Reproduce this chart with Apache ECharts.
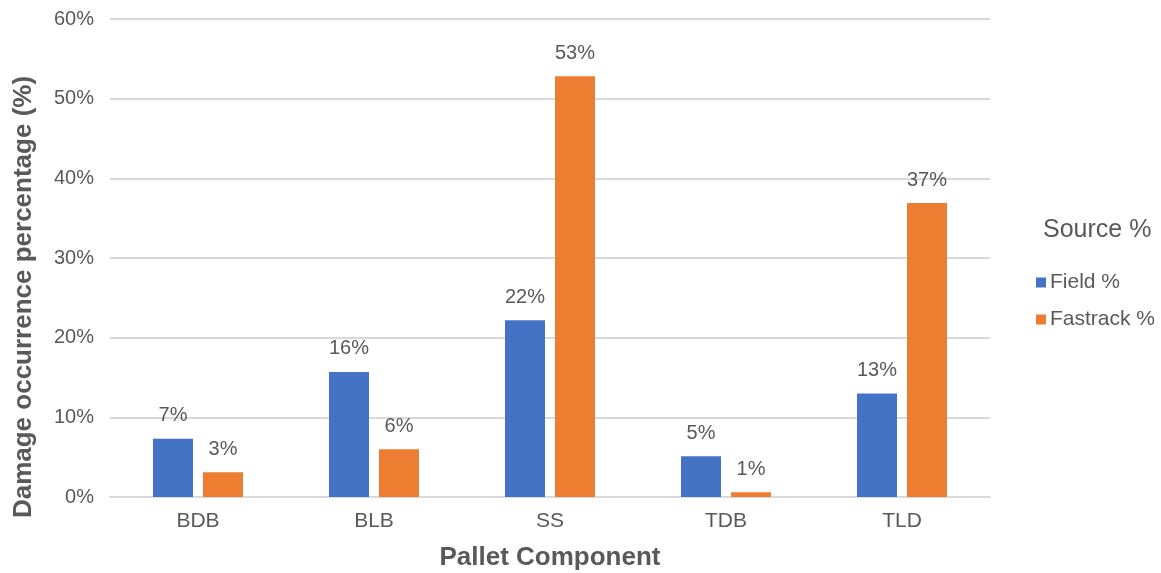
<!DOCTYPE html>
<html>
<head>
<meta charset="utf-8">
<script src="https://cdn.jsdelivr.net/npm/echarts@6/dist/echarts.min.js"></script>
<style>
  html, body { margin: 0; padding: 0; background: #fff; }
  #chart { width: 1161px; height: 573px; }
</style>
</head>
<body>
<div id="chart"></div>
<script>
// pallet components along the x axis
const categories = ["BDB", "BLB", "SS", "TDB", "TLD"];
// damage occurrence, in percent
const fieldPct = [7.3, 15.7, 22.2, 5.1, 13.0];
const fastrackPct = [3.1, 6.0, 52.8, 0.6, 36.9];
const yTicks = [0, 10, 20, 30, 40, 50, 60];

const font = "Liberation Sans, Arial, sans-serif";
const grey = "#595959";

const chart = echarts.init(document.getElementById("chart"));

const barLabel = {
    show: true,
    position: "top",
    distance: 13,
    color: grey,
    fontSize: 20,
    fontFamily: font,
    formatter: (p) => Math.round(p.value) + "%",
};

chart.setOption({
    animation: false,
    textStyle: { fontFamily: font },
    title: {
        text: "Source %",
        left: 1038,
        top: 213,
        textStyle: { color: grey, fontSize: 25, fontWeight: "normal", fontFamily: font },
    },
    legend: {
        orient: "vertical",
        left: 1031,
        top: 267,
        itemWidth: 10,
        itemHeight: 10,
        itemGap: 16,
        icon: "rect",
        textStyle: { color: grey, fontSize: 21, fontFamily: font, padding: [0, 0, 0, -1] },
        data: ["Field %", "Fastrack %"],
    },
    grid: { left: 110, right: 171, top: 19, bottom: 76, outerBoundsMode: "none" },
    xAxis: {
        type: "category",
        data: categories,
        name: "Pallet Component",
        nameLocation: "middle",
        nameGap: 48,
        nameTextStyle: { color: grey, fontSize: 26, fontWeight: "bold", fontFamily: font },
        axisLine: { lineStyle: { color: "#d9d9d9", width: 2 } },
        axisTick: { show: false },
        axisLabel: { color: grey, fontSize: 21, margin: 14, fontFamily: font },
    },
    yAxis: {
        type: "value",
        min: yTicks[0],
        max: yTicks[yTicks.length - 1],
        interval: 10,
        name: "Damage occurrence percentage (%)",
        nameLocation: "middle",
        nameGap: 73,
        nameTextStyle: {
            color: grey, fontSize: 26, fontWeight: "bold", fontFamily: font,
            padding: [0, 78, 0, 0],
        },
        axisLine: { show: false },
        axisTick: { show: false },
        axisLabel: { color: grey, fontSize: 20, margin: 16, formatter: "{value}%", fontFamily: font },
        splitLine: { lineStyle: { color: "#d9d9d9", width: 2 } },
    },
    series: [
        {
            name: "Field %",
            type: "bar",
            data: fieldPct,
            barWidth: 40,
            barGap: "25%",
            itemStyle: { color: "#4472C4" },
            label: barLabel,
        },
        {
            name: "Fastrack %",
            type: "bar",
            data: fastrackPct,
            barWidth: 40,
            itemStyle: { color: "#ED7D31" },
            label: barLabel,
        },
    ],
});
</script>
</body>
</html>
